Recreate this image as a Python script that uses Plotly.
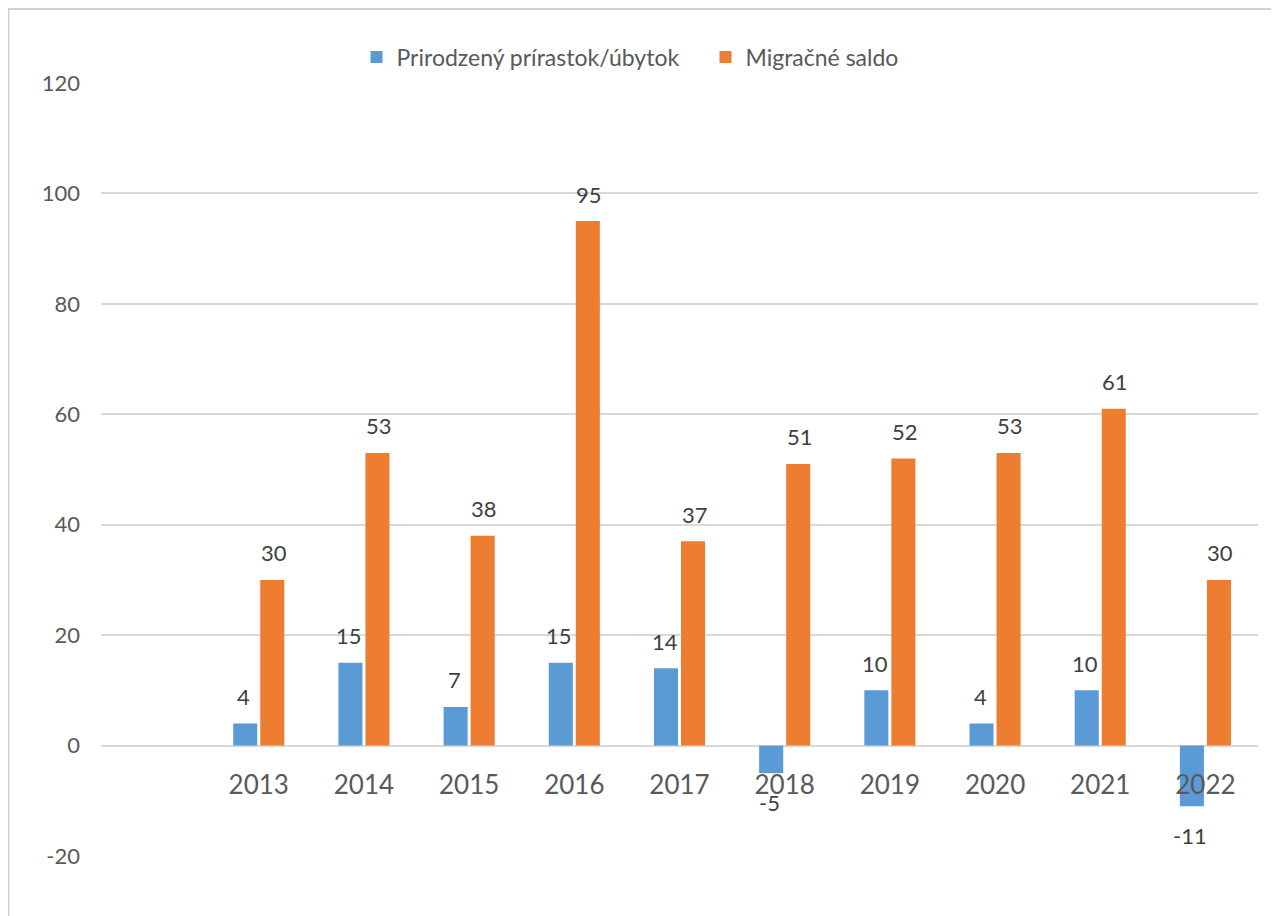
import plotly.graph_objects as go

years = ["2013", "2014", "2015", "2016", "2017", "2018", "2019", "2020", "2021", "2022"]
prirastok = [4, 15, 7, 15, 14, -5, 10, 4, 10, -11]
migracia = [30, 53, 38, 95, 37, 51, 52, 53, 61, 30]
y_ticks = [-20, 0, 20, 40, 60, 80, 100, 120]

BLUE = "#5B9BD5"
ORANGE = "#ED7D31"
FONT = "Lato, Open Sans, sans-serif"

fig = go.Figure()
fig.add_trace(go.Bar(x=years, y=prirastok, name="Prirodzený prírastok/úbytok",
                     marker=dict(color=BLUE, line=dict(width=0)), legendwidth=304))
fig.add_trace(go.Bar(x=years, y=migracia, name="Migračné saldo",
                     marker=dict(color=ORANGE, line=dict(width=0))))

annotations = []
for series, shift in ((prirastok, -15), (migracia, 15)):
    for i, v in enumerate(series):
        annotations.append(dict(
            x=i, y=v, xref="x", yref="y", text=str(v), showarrow=False,
            xshift=shift, yshift=27 if v >= 0 else -29, yanchor="middle",
            font=dict(family=FONT, size=22, color="#404040")))

# page body has an 8px margin; figure is sized/margined to compensate
W, H = 1271, 908
L, R, T, B = 93, 21, 75, 60
pw, ph = W - L - R, H - T - B

fig.update_layout(
    width=W, height=H,
    margin=dict(l=L, r=R, t=T, b=B, autoexpand=False),
    paper_bgcolor="white", plot_bgcolor="white",
    barmode="group", bargap=0.486, bargroupgap=0.11,
    font=dict(family=FONT, color="#595959"),
    showlegend=True,
    legend=dict(orientation="h", x=(630 - 101) / pw, xanchor="center",
                y=1 + 26 / ph, yanchor="middle",
                font=dict(family=FONT, size=23, color="#595959"),
                traceorder="normal"),
    annotations=annotations,
    shapes=[dict(type="rect", xref="paper", yref="paper",
                 x0=-(L - 0.5) / pw, x1=1.2, y0=-0.2, y1=1 + (T - 1) / ph,
                 line=dict(color="#D0D0D0", width=2), fillcolor="rgba(0,0,0,0)",
                 layer="below")],
)

fig.update_xaxes(
    type="category", range=[-1.5, 9.5], showgrid=False, showline=False,
    ticks="", anchor="free", position=20 / 140,
    tickfont=dict(family=FONT, size=26, color="#595959"),
    ticklabelstandoff=21,
)
fig.update_yaxes(
    range=[-20, 120], tickvals=y_ticks, ticktext=[str(t) for t in y_ticks],
    showgrid=True, gridcolor="#D9D9D9", gridwidth=1.5,
    zeroline=True, zerolinecolor="#D9D9D9", zerolinewidth=1.5, showline=False, ticks="",
    tickfont=dict(family=FONT, size=22, color="#595959"), ticklabelstandoff=20,
)

fig.write_html("out.html")
